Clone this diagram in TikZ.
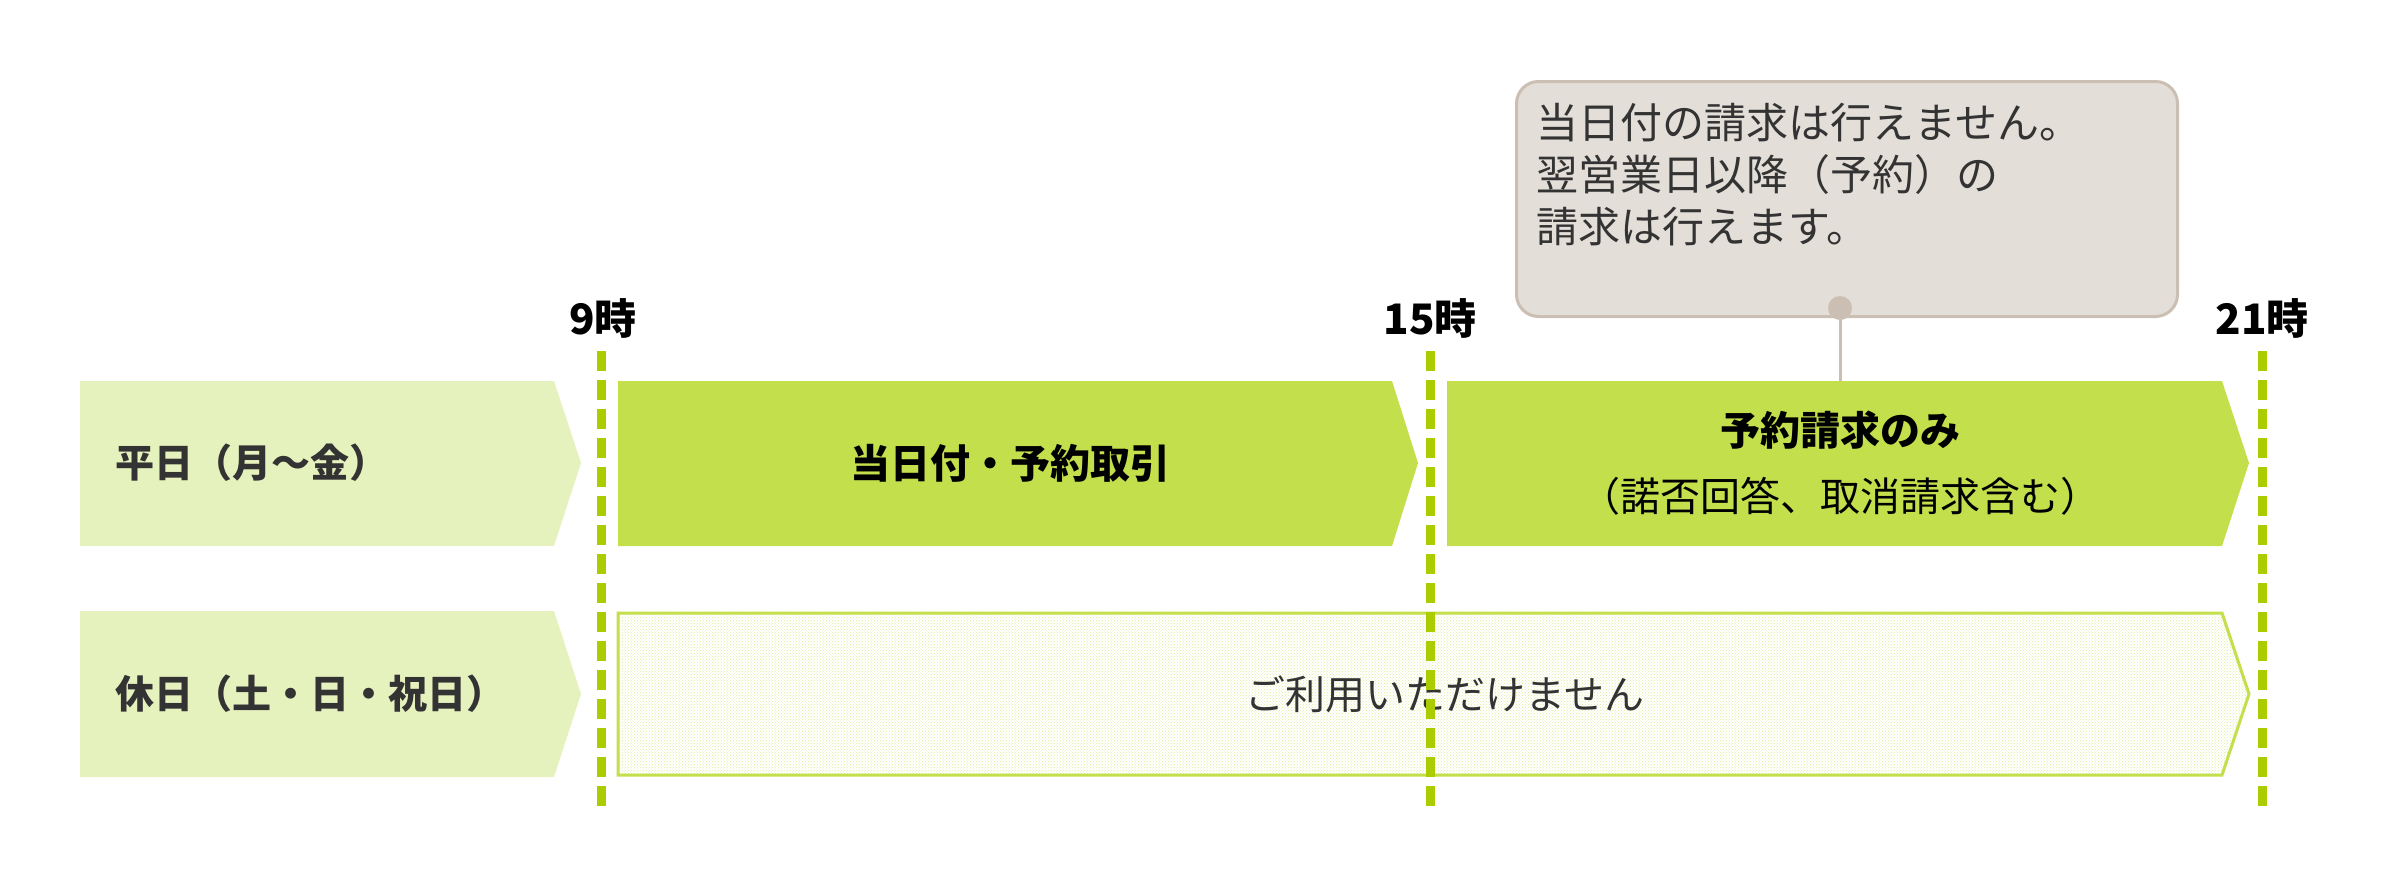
\documentclass[tikz,border=0pt]{standalone}
\usepackage{fontspec}
\setmainfont{Noto Sans CJK JP}
\usetikzlibrary{patterns}
\definecolor{lab}{HTML}{E6F2BE}
\definecolor{bar}{HTML}{C3DF4C}
\definecolor{dsh}{HTML}{AACC00}
\definecolor{cfill}{HTML}{E4DED8}
\definecolor{cdraw}{HTML}{CBBFB3}
\definecolor{txt}{HTML}{333333}
\begin{document}
\begin{tikzpicture}[x=1pt,y=-1pt,
  labtext/.style={font=\fontsize{39}{44}\selectfont\bfseries, text=txt},
  bartext/.style={font=\fontsize{40}{66}\selectfont, align=center, text=black},
  timetext/.style={font=\fontsize{42}{46}\selectfont\bfseries, text=black},
  vline/.style={dsh, line width=9pt, dash pattern=on 20pt off 9pt}]
\useasboundingbox (0,0) rectangle (2400,886);
% label arrows
\fill[lab] (80,381) -- (554,381) -- (581,463) -- (554,546) -- (80,546) -- cycle;
\fill[lab] (80,611) -- (554,611) -- (581,694) -- (554,777) -- (80,777) -- cycle;
\node[labtext, anchor=west] (l1) at (112,463) {平日（月～金）};
\node[labtext, anchor=west] (l2) at (112,694) {休日（土・日・祝日）};
% bars
\fill[bar] (618,381) -- (1392,381) -- (1418,463) -- (1392,546) -- (618,546) -- cycle;
\fill[bar] (1447,381) -- (2222,381) -- (2249,463) -- (2222,546) -- (1447,546) -- cycle;
\fill[color=white] (618,613) -- (2222,613) -- (2249,694) -- (2222,775) -- (618,775) -- cycle;
\fill[pattern=crosshatch dots, pattern color=bar!55] (618,613) -- (2222,613) -- (2249,694) -- (2222,775) -- (618,775) -- cycle;
\draw[bar, line width=3pt] (618,613) -- (2222,613) -- (2249,694) -- (2222,775) -- (618,775) -- cycle;
\node[bartext, font=\fontsize{40}{66}\selectfont\bfseries] (b1) at (1010,463) {当日付・予約取引};
\node[bartext] (b2) at (1840,463) {\textbf{予約請求のみ}\\（諾否回答、取消請求含む）};
\node[bartext, text=txt] (b3) at (1445,694) {ご利用いただけません};
% dashed lines
\coordinate (d1a) at (601,351); \coordinate (d1b) at (601,810);
\coordinate (d2a) at (1430,351); \coordinate (d2b) at (1430,810);
\coordinate (d3a) at (2262,351); \coordinate (d3b) at (2262,810);
\draw[vline] (d1a) -- (d1b);
\draw[vline] (d2a) -- (d2b);
\draw[vline] (d3a) -- (d3b);
\node[timetext] (t1) at (603,318) {9時};
\node[timetext] (t2) at (1430,318) {15時};
\node[timetext] (t3) at (2262,318) {21時};
% callout
\node[draw=cdraw, fill=cfill, line width=3pt, rounded corners=22pt, minimum width=661pt, minimum height=235pt, anchor=north west] (c) at (1515,80) {};
\node[anchor=north west, align=left, font=\fontsize{42}{52}\selectfont, text=txt] (ct) at (1533,100) {当日付の請求は行えません。\\翌営業日以降（予約）の\\請求は行えます。};
\coordinate (cd) at (1840,308);
\draw[cdraw, line width=3pt] (cd) -- (1840,381);
\fill[cdraw] (cd) circle (12pt);
\end{tikzpicture}
\end{document}
